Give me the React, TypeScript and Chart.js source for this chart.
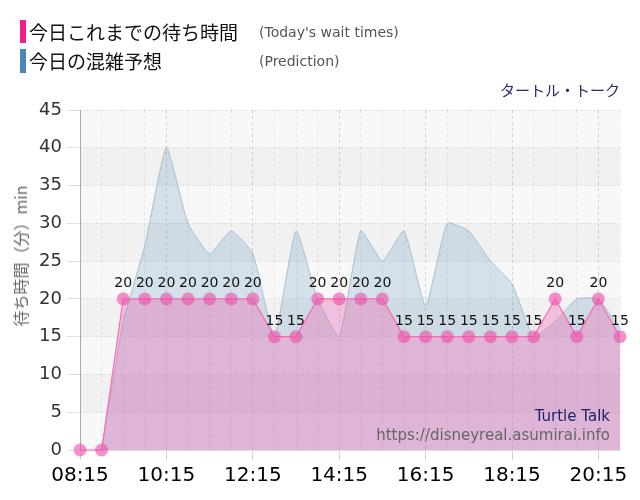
import { useEffect, useRef } from 'react';
import { Chart, registerables } from 'chart.js';

Chart.register(...registerables);

const timeLabels = [
  '08:15', '08:45', '09:15', '09:45', '10:15', '10:45', '11:15', '11:45', '12:15', '12:45',
  '13:15', '13:45', '14:15', '14:45', '15:15', '15:45', '16:15', '16:45', '17:15', '17:45',
  '18:15', '18:45', '19:15', '19:45', '20:15', '20:45',
];
const actualWait = [0, 0, 20, 20, 20, 20, 20, 20, 20, 15, 15, 20, 20, 20, 20, 15, 15, 15, 15, 15, 15, 15, 20, 15, 20, 15];
const predictedWait = [null, 0, 17, 27, 40, 30, 26, 29, 26, 15, 29, 20, 15, 29, 25, 29, 19, 30, 29, 25, 22, 15, 17, 20, 20, 16];
const xTickLabels = ['08:15', '10:15', '12:15', '14:15', '16:15', '18:15', '20:15'];
const yMin = 0;
const yMax = 45;
const yStep = 5;
const darkBands = [[5, 10], [15, 20], [25, 30], [35, 40]];

const toMin = (t: string) => {
  const [h, m] = t.split(':').map(Number);
  return h * 60 + m;
};
const fmt = (v: number) => {
  const h = Math.floor(v / 60);
  const m = v % 60;
  return String(h).padStart(2, '0') + ':' + String(m).padStart(2, '0');
};
const xValues = timeLabels.map(toMin);
const majorSet = new Set(xTickLabels.map(toMin));

const bandPlugin = {
  id: 'bands',
  beforeDraw(chart: any) {
    const { ctx, chartArea, scales } = chart;
    const { left, right, top, bottom } = chartArea;
    const y = scales.y;
    ctx.save();
    ctx.fillStyle = '#f8f8f8';
    ctx.fillRect(left, top, right - left, bottom - top);
    ctx.fillStyle = '#f1f1f1';
    for (const [a, b] of darkBands) {
      const y1 = y.getPixelForValue(b);
      const y2 = y.getPixelForValue(a);
      ctx.fillRect(left, y1, right - left, y2 - y1);
    }
    ctx.restore();
  },
};

const valueLabelPlugin = {
  id: 'valueLabels',
  afterDatasetsDraw(chart: any) {
    const { ctx } = chart;
    const meta = chart.getDatasetMeta(0);
    ctx.save();
    ctx.font = '14px "DejaVu Sans"';
    ctx.fillStyle = '#111';
    ctx.textAlign = 'center';
    ctx.textBaseline = 'alphabetic';
    meta.data.forEach((pt: any, i: number) => {
      const v = actualWait[i];
      if (v > 0) ctx.fillText(String(v), pt.x, pt.y - 12);
    });
    ctx.restore();
  },
};

export default function App() {
  const canvasRef = useRef<HTMLCanvasElement | null>(null);

  useEffect(() => {
    const canvas = canvasRef.current;
    if (!canvas) return;
    const chart = new Chart(canvas, {
      type: 'line',
      data: {
        datasets: [
          {
            label: '今日これまでの待ち時間',
            data: xValues.map((x, i) => ({ x, y: actualWait[i] })),
            borderColor: 'rgba(255, 95, 175, 0.9)',
            borderWidth: 1.2,
            backgroundColor: 'rgba(240, 100, 180, 0.35)',
            fill: 'origin',
            tension: 0,
            pointRadius: 6.5,
            pointBorderWidth: 0,
            pointBackgroundColor: 'rgba(238, 80, 170, 0.62)',
            clip: false as any,
          },
          {
            label: '今日の混雑予想',
            data: xValues.map((x, i) => ({ x, y: predictedWait[i] })),
            borderColor: 'rgba(160, 188, 206, 0.9)',
            borderWidth: 1,
            backgroundColor: 'rgba(70, 130, 180, 0.2)',
            fill: 'origin',
            tension: 0.15,
            pointRadius: 0,
            clip: false as any,
          },
        ],
      },
      options: {
        animation: false,
        responsive: true,
        maintainAspectRatio: false,
        layout: { padding: { top: 110, right: 20, left: 0, bottom: 0 } },
        plugins: { legend: { display: false }, tooltip: { enabled: false } },
        scales: {
          x: {
            type: 'linear',
            min: xValues[0],
            max: xValues[xValues.length - 1],
            afterBuildTicks: (scale: any) => {
              scale.ticks = xValues.map((v) => ({ value: v }));
            },
            afterFit: (scale: any) => {
              scale.height = 50;
            },
            ticks: {
              autoSkip: false,
              maxRotation: 0,
              color: '#000',
              padding: 4,
              font: { family: '"DejaVu Sans"', size: 20 },
              callback: (v: any) => (majorSet.has(Number(v)) ? fmt(Number(v)) : ''),
            },
            grid: {
              color: (c: any) => (c.tick && majorSet.has(c.tick.value) ? 'rgba(0,0,0,0.15)' : 'rgba(0,0,0,0.08)'),
              tickColor: (c: any) => (c.tick && majorSet.has(c.tick.value) ? '#d0d0d0' : 'rgba(0,0,0,0)'),
              tickLength: 10,
              lineWidth: 1,
            },
            border: { display: true, color: '#dddddd', dash: [3, 3] },
          },
          y: {
            min: yMin,
            max: yMax,
            afterFit: (scale: any) => {
              scale.width = 80;
            },
            ticks: {
              stepSize: yStep,
              color: '#333',
              padding: 5,
              font: { family: '"DejaVu Sans"', size: 18 },
            },
            grid: {
              color: 'rgba(0,0,0,0.15)',
              tickColor: 'rgba(0,0,0,0.12)',
              tickLength: 13,
            },
            border: { display: true, color: '#aaaaaa', dash: [1, 2] },
          },
        },
      },
      plugins: [bandPlugin, valueLabelPlugin],
    } as any);
    return () => chart.destroy();
  }, []);

  const cjk = '"Noto Sans CJK JP", sans-serif';
  const latin = '"DejaVu Sans", sans-serif';

  return (
    <div style={{ position: 'absolute', left: 0, top: 0, width: 640, height: 500, background: '#fff' }}>
      <canvas ref={canvasRef} />
      <div style={{ position: 'absolute', left: 20, top: 20, width: 6, height: 23, background: '#f21d8c' }} />
      <div style={{ position: 'absolute', left: 20, top: 49, width: 6, height: 24, background: '#4a86b8' }} />
      <div style={{ position: 'absolute', left: 29, top: 19, height: 26, lineHeight: '26px', fontFamily: cjk, fontSize: 19, color: '#111', whiteSpace: 'nowrap' }}>今日これまでの待ち時間</div>
      <div style={{ position: 'absolute', left: 29, top: 47.5, height: 26, lineHeight: '26px', fontFamily: cjk, fontSize: 19, color: '#111', whiteSpace: 'nowrap' }}>今日の混雑予想</div>
      <div style={{ position: 'absolute', left: 259, top: 22, lineHeight: '20px', fontFamily: latin, fontSize: 14, color: '#555', whiteSpace: 'nowrap' }}>(Today's wait times)</div>
      <div style={{ position: 'absolute', left: 259, top: 50.5, lineHeight: '20px', fontFamily: latin, fontSize: 14, color: '#555', whiteSpace: 'nowrap' }}>(Prediction)</div>
      <div style={{ position: 'absolute', right: 20, top: 79, lineHeight: '22px', fontFamily: cjk, fontSize: 15, color: '#2b2b6b', whiteSpace: 'nowrap' }}>タートル・トーク</div>
      <div style={{ position: 'absolute', left: 20, top: 256, transform: 'translate(-50%, -50%) rotate(-90deg)', fontFamily: cjk, fontSize: 16, color: '#666', whiteSpace: 'nowrap', lineHeight: '20px' }}>待ち時間（分）min</div>
      <div style={{ position: 'absolute', right: 30, top: 405, lineHeight: '22px', fontFamily: latin, fontSize: 15, color: '#22226b', whiteSpace: 'nowrap', pointerEvents: 'none' }}>Turtle Talk</div>
      <div style={{ position: 'absolute', right: 30, top: 424, lineHeight: '22px', fontFamily: latin, fontSize: 15, color: '#666', whiteSpace: 'nowrap', pointerEvents: 'none' }}>https://disneyreal.asumirai.info</div>
    </div>
  );
}
